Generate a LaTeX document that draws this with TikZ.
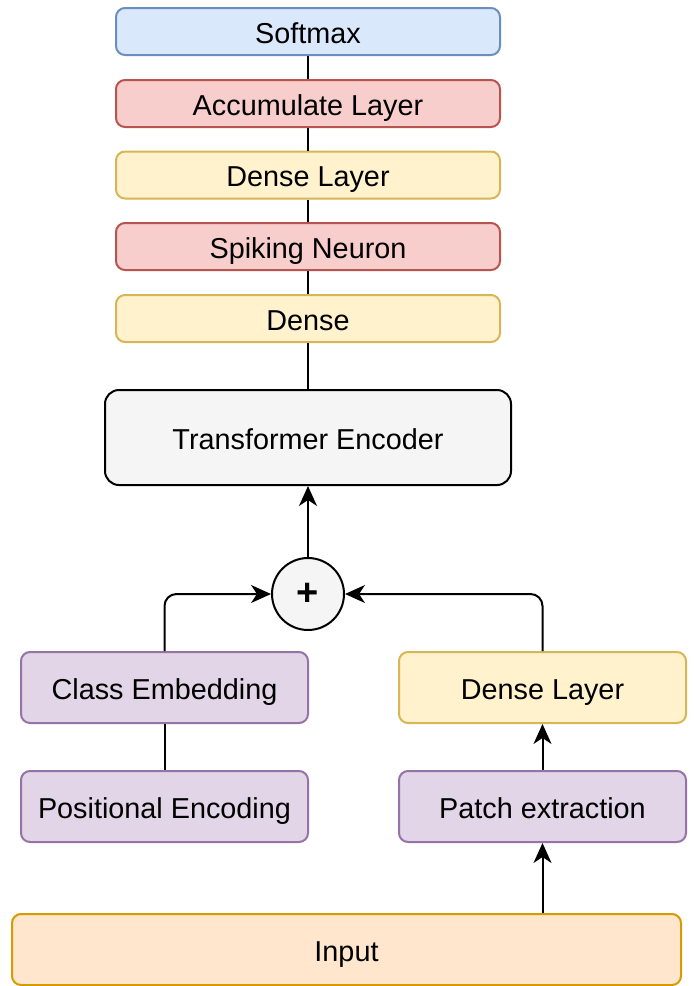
\documentclass[tikz,border=0pt]{standalone}
\usepackage{fontspec}
\setmainfont{Liberation Sans}
\usetikzlibrary{arrows.meta}

\definecolor{blueF}{HTML}{DAE8FC}\definecolor{blueD}{HTML}{6C8EBF}
\definecolor{redF}{HTML}{F8CECC}\definecolor{redD}{HTML}{B85450}
\definecolor{yelF}{HTML}{FFF2CC}\definecolor{yelD}{HTML}{D6B656}
\definecolor{purF}{HTML}{E1D5E7}\definecolor{purD}{HTML}{9673A6}
\definecolor{orgF}{HTML}{FFE6CC}\definecolor{orgD}{HTML}{D79B00}
\definecolor{grayF}{HTML}{F5F5F5}

\tikzset{
  box/.style={draw, line width=1pt, rounded corners=4.5pt, inner sep=0pt,
    font=\fontsize{14.4}{17}\selectfont, text=black,
    text height=11.5pt, text depth=0pt},
  toplayer/.style={box, minimum width=192pt, minimum height=23.5pt},
  sidebox/.style={box, minimum width=143.5pt, minimum height=35.5pt},
  bluebox/.style={fill=blueF, draw=blueD},
  redbox/.style={fill=redF, draw=redD},
  yelbox/.style={fill=yelF, draw=yelD},
  purbox/.style={fill=purF, draw=purD},
  link/.style={line width=1pt, black},
  arr/.style={link, -{Stealth[length=10pt, width=9pt, inset=3pt]}},
}

\begin{document}
\begin{tikzpicture}[x=0.5pt, y=-0.5pt]
  \useasboundingbox (0,0) rectangle (694,986);

  % classification head
  \node[toplayer, bluebox] (soft) at (308,31.5) {Softmax};
  \node[toplayer, redbox]  (acc)  at (308,103.5) {Accumulate Layer};
  \node[toplayer, yelbox]  (dl)   at (308,175) {Dense Layer};
  \node[toplayer, redbox]  (spk)  at (308,246.5) {Spiking Neuron};
  \node[toplayer, yelbox]  (dns)  at (308,318.5) {Dense};

  % encoder and sum
  \node[box, fill=grayF, draw=black, rounded corners=7pt,
        minimum width=203pt, minimum height=47.5pt] (enc) at (308,437.5) {Transformer Encoder};
  \node[circle, draw=black, fill=grayF, line width=1pt, minimum size=36pt, inner sep=0pt,
        font=\fontsize{19}{19}\selectfont\bfseries] (plus) at (308,594) {+};

  % embedding branches
  \node[sidebox, purbox] (cls)  at (164.5,687.5) {Class Embedding};
  \node[sidebox, purbox] (pos)  at (164.5,806.5) {Positional Encoding};
  \node[sidebox, yelbox] (dr)   at (542.5,687.5) {Dense Layer};
  \node[sidebox, purbox] (patch) at (542.5,806.5) {Patch extraction};

  % input
  \node[box, fill=orgF, draw=orgD, minimum width=334.5pt, minimum height=35.5pt] (inp) at (346.5,949.5) {Input};

  % connectors
  \draw[link] (soft) -- (acc);
  \draw[link] (acc) -- (dl);
  \draw[link] (dl) -- (spk);
  \draw[link] (spk) -- (dns);
  \draw[link] (dns) -- (enc);
  \draw[arr] (plus) -- (enc);
  \draw[arr, rounded corners=6pt] (cls.north) |- (plus.west);
  \draw[arr, rounded corners=6pt] (dr.north) |- (plus.east);
  \draw[link] (pos) -- (cls);
  \draw[arr] (patch) -- (dr);
  \draw[arr] (inp.north -| patch.south) -- (patch);
\end{tikzpicture}
\end{document}
